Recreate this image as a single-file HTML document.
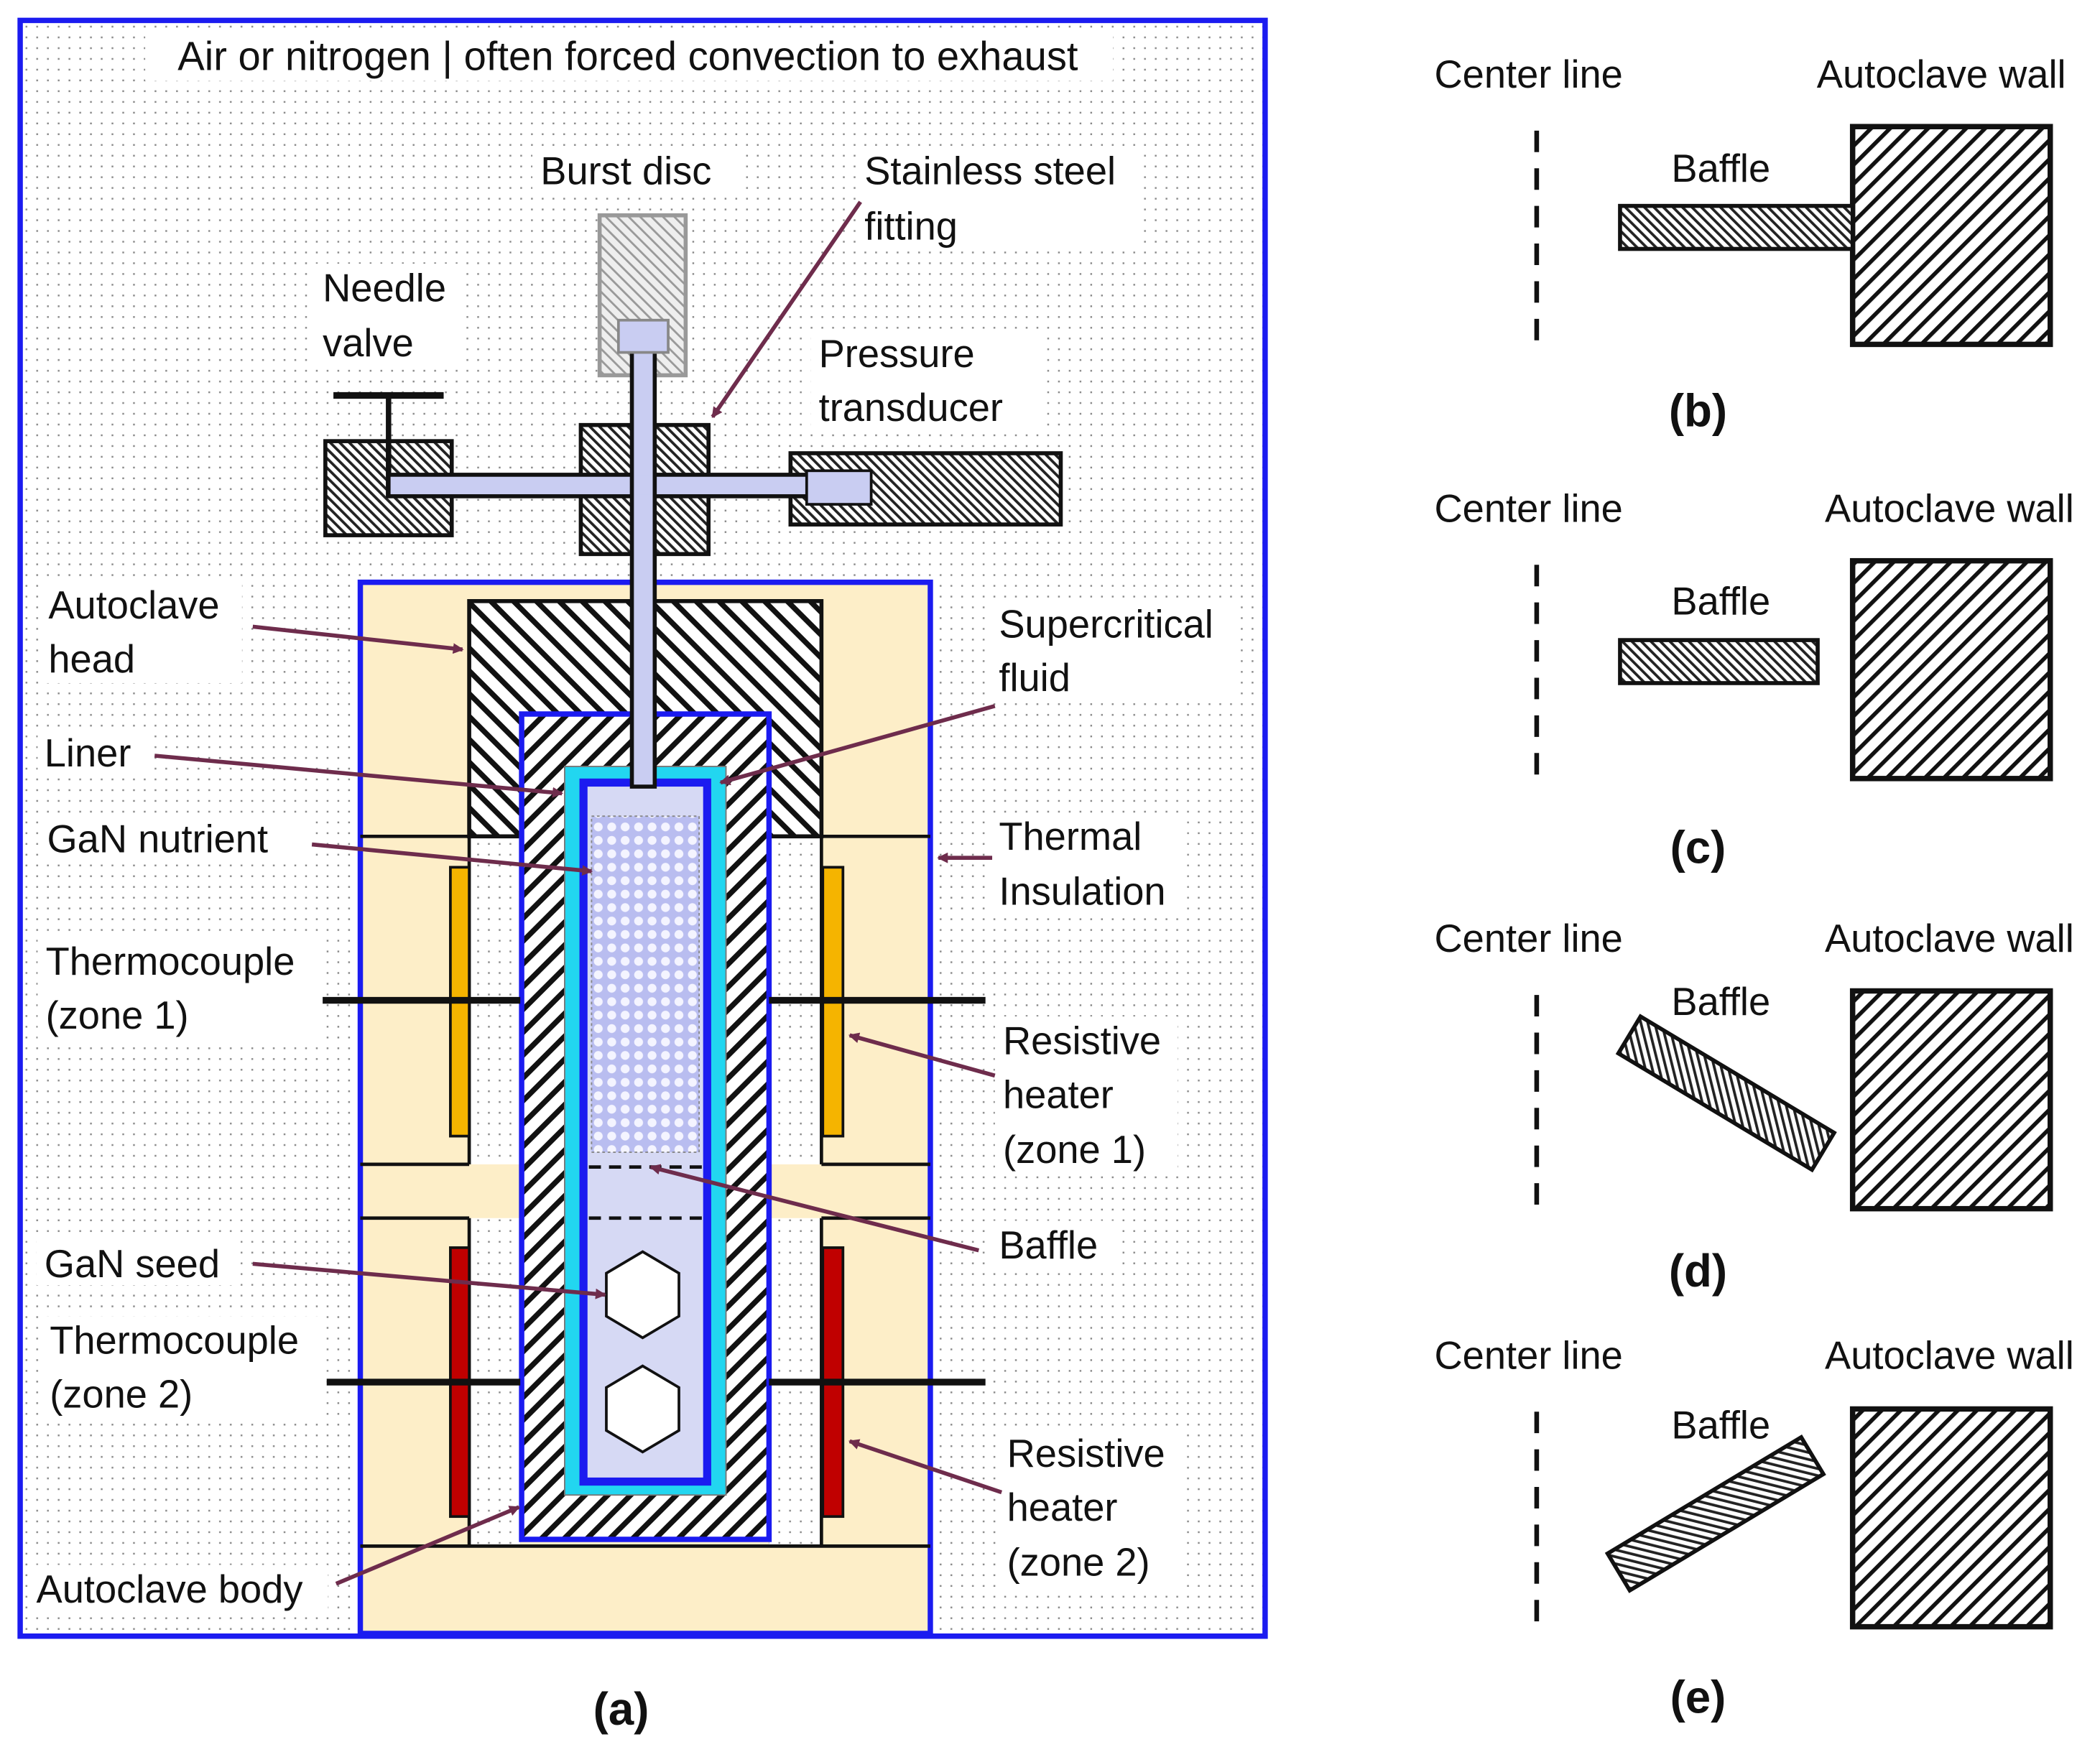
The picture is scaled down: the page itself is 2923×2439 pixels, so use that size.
<!DOCTYPE html>
<html><head><meta charset="utf-8"><style>
html,body{margin:0;padding:0;background:#fff}
svg{display:block}
text{font-family:"Liberation Sans",Arial,sans-serif;fill:#111}
</style></head><body>
<svg width="2923" height="2439" viewBox="0 0 1562 1303" xmlns="http://www.w3.org/2000/svg">
<defs>
<pattern id="dots" width="8" height="8" patternUnits="userSpaceOnUse"><rect width="8" height="8" fill="#fff"/><rect x="3" y="3" width="1.3" height="1.3" fill="#888"/></pattern>
<pattern id="hb" width="12" height="12" patternUnits="userSpaceOnUse" patternTransform="rotate(45)"><rect width="12" height="12" fill="#fff"/><rect width="4" height="12" fill="#111"/></pattern>
<pattern id="hf" width="12" height="12" patternUnits="userSpaceOnUse" patternTransform="rotate(-45)"><rect width="12" height="12" fill="#fff"/><rect width="4" height="12" fill="#111"/></pattern>
<pattern id="hs" width="5" height="5" patternUnits="userSpaceOnUse" patternTransform="rotate(-45)"><rect width="5" height="5" fill="#fff"/><rect width="2" height="5" fill="#222"/></pattern>
<pattern id="hg" width="6" height="6" patternUnits="userSpaceOnUse" patternTransform="rotate(-45)"><rect width="6" height="6" fill="#eee"/><rect width="1.5" height="6" fill="#999"/></pattern>
<pattern id="hw" width="10" height="10" patternUnits="userSpaceOnUse" patternTransform="rotate(45)"><rect width="10" height="10" fill="#fff"/><rect width="3" height="10" fill="#111"/></pattern>
<pattern id="chk" width="10" height="10" patternUnits="userSpaceOnUse"><rect width="10" height="10" fill="#b9bdf0"/><circle cx="5" cy="5" r="3.3" fill="#f4f4ff"/></pattern>
<marker id="ar" markerWidth="8" markerHeight="8" refX="7" refY="4" orient="auto" markerUnits="userSpaceOnUse"><path d="M0,0 L8,4 L0,8 z" fill="#6e2c4c"/></marker>
</defs>
<rect width="1562" height="1303" fill="#fff"/>
<rect x="15" y="15" width="926" height="1202" fill="url(#dots)" stroke="#1b1bf0" stroke-width="4"/>
<rect x="108" y="24" width="720" height="36" fill="#fff"/>
<text x="467" y="52" font-size="30" text-anchor="middle">Air or nitrogen | often forced convection to exhaust</text>
<rect x="268" y="433" width="424" height="782" fill="#fdeec8" stroke="#1b1bf0" stroke-width="4"/>
<rect x="349" y="622" width="38" height="244" fill="url(#dots)"/>
<rect x="572" y="622" width="39" height="244" fill="url(#dots)"/>
<rect x="349" y="906" width="38" height="244" fill="url(#dots)"/>
<rect x="572" y="906" width="39" height="244" fill="url(#dots)"/>
<g stroke="#111" stroke-width="2.5" fill="none">
<line x1="268" y1="622" x2="349" y2="622"/><line x1="611" y1="622" x2="692" y2="622"/>
<line x1="268" y1="866" x2="349" y2="866"/><line x1="611" y1="866" x2="692" y2="866"/>
<line x1="268" y1="906" x2="349" y2="906"/><line x1="611" y1="906" x2="692" y2="906"/>
<line x1="268" y1="1150" x2="692" y2="1150"/>
<line x1="349" y1="622" x2="349" y2="866"/><line x1="611" y1="622" x2="611" y2="866"/>
<line x1="349" y1="906" x2="349" y2="1150"/><line x1="611" y1="906" x2="611" y2="1150"/>
</g>
<rect x="349" y="447" width="262" height="175" fill="url(#hf)" stroke="#111" stroke-width="3"/>
<rect x="388" y="531" width="184" height="614" fill="url(#hb)" stroke="#1b1bf0" stroke-width="4"/>
<rect x="420" y="570" width="120" height="542" fill="#22d6f0" stroke="#777" stroke-width="1"/>
<rect x="431" y="579" width="98" height="526" fill="#1b1bf0"/>
<rect x="437" y="585" width="86" height="514" fill="#d6d9f4"/>
<rect x="440" y="607" width="80" height="250" fill="url(#chk)" stroke="#888" stroke-width="1" stroke-dasharray="2,2"/>
<g stroke="#111" stroke-width="2.5" stroke-dasharray="9,6"><line x1="438" y1="868" x2="522" y2="868"/><line x1="438" y1="906" x2="522" y2="906"/></g>
<polygon points="478,931 505,947 505,979 478,995 451,979 451,947" fill="#fff" stroke="#111" stroke-width="2"/>
<polygon points="478,1016 505,1032 505,1064 478,1080 451,1064 451,1032" fill="#fff" stroke="#111" stroke-width="2"/>
<rect x="335" y="645" width="14" height="200" fill="#f5b400" stroke="#111" stroke-width="2"/>
<rect x="612" y="645" width="15" height="200" fill="#f5b400" stroke="#111" stroke-width="2"/>
<rect x="335" y="928" width="14" height="200" fill="#c00000" stroke="#111" stroke-width="2"/>
<rect x="612" y="928" width="15" height="200" fill="#c00000" stroke="#111" stroke-width="2"/>
<g stroke="#111" stroke-width="5"><line x1="240" y1="744" x2="387" y2="744"/><line x1="572" y1="744" x2="733" y2="744"/><line x1="243" y1="1028" x2="387" y2="1028"/><line x1="572" y1="1028" x2="733" y2="1028"/></g>
<rect x="446" y="160" width="64" height="119" fill="url(#hg)" stroke="#999" stroke-width="3"/>
<rect x="432" y="316" width="95" height="96" fill="url(#hs)" stroke="#111" stroke-width="3"/>
<rect x="242" y="328" width="94" height="70" fill="url(#hs)" stroke="#111" stroke-width="3"/>
<rect x="588" y="337" width="201" height="53" fill="url(#hs)" stroke="#111" stroke-width="3"/>
<line x1="248" y1="294" x2="330" y2="294" stroke="#111" stroke-width="5"/>
<line x1="289" y1="294" x2="289" y2="370" stroke="#111" stroke-width="4"/>
<rect x="289" y="353" width="312" height="16" fill="#c9cdf2" stroke="#111" stroke-width="3"/>
<rect x="470" y="260" width="17" height="325" fill="#c9cdf2" stroke="#111" stroke-width="3"/>
<rect x="472" y="354" width="13" height="14" fill="#c9cdf2"/>
<rect x="460" y="238" width="37" height="24" fill="#c9cdf2" stroke="#888" stroke-width="2"/>
<rect x="600" y="350" width="48" height="25" fill="#c9cdf2" stroke="#111" stroke-width="2"/>
<g fill="#fff">
<rect x="396" y="110" width="156" height="34"/><rect x="638" y="110" width="210" height="76"/>
<rect x="234" y="196" width="110" height="76"/><rect x="603" y="245" width="170" height="76"/>
<rect x="30" y="432" width="150" height="76"/><rect x="737" y="446" width="182" height="76"/>
<rect x="28" y="543" width="86" height="34"/><rect x="29" y="607" width="200" height="34"/>
<rect x="737" y="605" width="146" height="76"/><rect x="28" y="697" width="210" height="76"/>
<rect x="740" y="756" width="136" height="118"/><rect x="737" y="908" width="92" height="36"/>
<rect x="27" y="922" width="152" height="34"/><rect x="31" y="979" width="210" height="76"/>
<rect x="743" y="1063" width="136" height="118"/><rect x="22" y="1164" width="222" height="36"/>
</g>
<g font-size="29">
<text x="402" y="137">Burst  disc</text>
<text x="643" y="137">Stainless steel</text><text x="643" y="178">fitting</text>
<text x="240" y="224">Needle</text><text x="240" y="265">valve</text>
<text x="609" y="273">Pressure</text><text x="609" y="313">transducer</text>
<text x="36" y="460">Autoclave</text><text x="36" y="500">head</text>
<text x="743" y="474">Supercritical</text><text x="743" y="514">fluid</text>
<text x="33" y="570">Liner</text>
<text x="35" y="634">GaN nutrient</text>
<text x="743" y="632">Thermal</text><text x="743" y="673">Insulation</text>
<text x="34" y="725">Thermocouple</text><text x="34" y="765">(zone 1)</text>
<text x="746" y="784">Resistive</text><text x="746" y="824">heater</text><text x="746" y="865">(zone 1)</text>
<text x="743" y="936">Baffle</text>
<text x="33" y="950">GaN seed</text>
<text x="37" y="1007">Thermocouple</text><text x="37" y="1047">(zone 2)</text>
<text x="749" y="1091">Resistive</text><text x="749" y="1131">heater</text><text x="749" y="1172">(zone 2)</text>
<text x="27" y="1192">Autoclave body</text>
</g>
<g stroke="#6e2c4c" stroke-width="3" fill="none" marker-end="url(#ar)">
<line x1="640" y1="150" x2="530" y2="310"/>
<line x1="188" y1="466" x2="344" y2="483"/>
<line x1="740" y1="525" x2="536" y2="582"/>
<line x1="115" y1="562" x2="418" y2="590"/>
<line x1="232" y1="628" x2="440" y2="648"/>
<line x1="738" y1="638" x2="698" y2="638"/>
<line x1="740" y1="800" x2="632" y2="770"/>
<line x1="728" y1="930" x2="484" y2="868"/>
<line x1="188" y1="940" x2="450" y2="963"/>
<line x1="745" y1="1110" x2="632" y2="1072"/>
<line x1="250" y1="1178" x2="386" y2="1121"/>
</g>
<text x="462" y="1283" font-size="34" font-weight="bold" text-anchor="middle">(a)</text>
<g font-size="29">
<text x="1137" y="65" text-anchor="middle">Center line</text><text x="1444" y="65" text-anchor="middle">Autoclave wall</text>
<text x="1137" y="388" text-anchor="middle">Center line</text><text x="1450" y="388" text-anchor="middle">Autoclave wall</text>
<text x="1137" y="708" text-anchor="middle">Center line</text><text x="1450" y="708" text-anchor="middle">Autoclave wall</text>
<text x="1137" y="1018" text-anchor="middle">Center line</text><text x="1450" y="1018" text-anchor="middle">Autoclave wall</text>
<text x="1280" y="135" text-anchor="middle">Baffle</text>
<text x="1280" y="457" text-anchor="middle">Baffle</text>
<text x="1280" y="755" text-anchor="middle">Baffle</text>
<text x="1280" y="1070" text-anchor="middle">Baffle</text>
</g>
<g font-size="34" font-weight="bold" text-anchor="middle">
<text x="1263" y="317">(b)</text><text x="1263" y="642">(c)</text><text x="1263" y="957">(d)</text><text x="1263" y="1274">(e)</text>
</g>
<g stroke="#111" stroke-width="3.5" stroke-dasharray="16,12">
<line x1="1143" y1="97" x2="1143" y2="257"/><line x1="1143" y1="420" x2="1143" y2="580"/>
<line x1="1143" y1="740" x2="1143" y2="900"/><line x1="1143" y1="1050" x2="1143" y2="1210"/>
</g>
<g stroke="#111" stroke-width="4">
<rect x="1378" y="94" width="147" height="162" fill="url(#hw)"/>
<rect x="1378" y="417" width="147" height="162" fill="url(#hw)"/>
<rect x="1378" y="737" width="147" height="162" fill="url(#hw)"/>
<rect x="1378" y="1048" width="147" height="162" fill="url(#hw)"/>
<rect x="1205" y="153" width="173" height="32" fill="url(#hs)" stroke-width="3"/>
<rect x="1205" y="476" width="147" height="32" fill="url(#hs)" stroke-width="3"/>
<rect x="-84" y="-16" width="168" height="32" fill="url(#hs)" stroke-width="3" transform="translate(1284,813) rotate(31)"/>
<rect x="-84" y="-16" width="168" height="32" fill="url(#hs)" stroke-width="3" transform="translate(1276,1126) rotate(-31)"/>
</g>
</svg>
</body></html>
